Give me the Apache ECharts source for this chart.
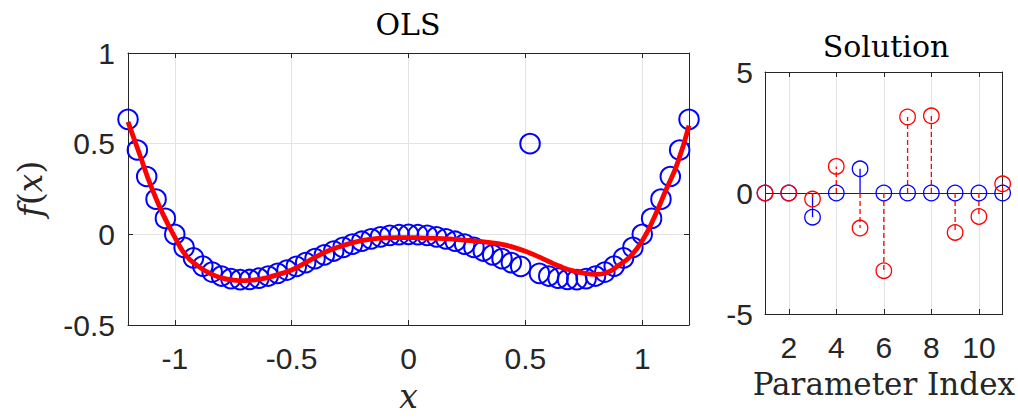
<!DOCTYPE html>
<html><head><meta charset="utf-8">
<script src="https://cdn.jsdelivr.net/npm/echarts@6/dist/echarts.min.js"></script>
<style>html,body{margin:0;padding:0;background:#fff}#c{width:1018px;height:418px}</style>
</head><body><div id="c"></div>
<script>
// ---- Data ----
const sampleX = [-1.2,-1.16,-1.12,-1.08,-1.04,-1.0,-0.96,-0.92,-0.88,-0.84,-0.8,-0.76,-0.72,-0.68,-0.64,-0.6,-0.56,-0.52,-0.48,-0.44,-0.4,-0.36,-0.32,-0.28,-0.24,-0.2,-0.16,-0.12,-0.08,-0.04,0,
  0.04,0.08,0.12,0.16,0.2,0.24,0.28,0.32,0.36,0.4,0.44,0.48,0.52,0.56,0.6,0.64,0.68,0.72,0.76,0.8,0.84,0.88,0.92,0.96,1.0,1.04,1.08,1.12,1.16,1.2];
const sampleY = [0.634,0.465,0.319,0.194,0.088,0,-0.072,-0.130,-0.175,-0.208,-0.230,-0.244,-0.250,-0.249,-0.242,-0.230,-0.215,-0.197,-0.177,-0.156,-0.134,-0.113,-0.092,-0.072,-0.054,-0.038,-0.025,-0.014,-0.006,-0.002,0,
  -0.002,-0.006,-0.014,-0.025,-0.038,-0.054,-0.072,-0.092,-0.113,-0.134,-0.156,-0.177,0.5,-0.215,-0.230,-0.242,-0.249,-0.250,-0.244,-0.230,-0.208,-0.175,-0.130,-0.072,0,0.088,0.194,0.319,0.465,0.634];
const fitX = [-1.2,-1.15,-1.1,-1.05,-1.0,-0.95,-0.9,-0.85,-0.8,-0.75,-0.7,-0.65,-0.6,-0.55,-0.5,-0.45,-0.4,-0.35,-0.3,-0.25,-0.2,-0.15,-0.1,-0.05,0,
  0.05,0.1,0.15,0.2,0.25,0.3,0.35,0.4,0.45,0.5,0.55,0.6,0.65,0.7,0.75,0.8,0.85,0.9,0.95,1.0,1.05,1.1,1.15,1.2];
const fitY = [0.62,0.44,0.26,0.11,-0.015,-0.12,-0.175,-0.215,-0.24,-0.252,-0.255,-0.25,-0.237,-0.218,-0.197,-0.163,-0.127,-0.095,-0.07,-0.05,-0.035,-0.025,-0.02,-0.018,-0.018,
  -0.019,-0.021,-0.024,-0.028,-0.033,-0.039,-0.046,-0.055,-0.072,-0.093,-0.12,-0.15,-0.178,-0.2,-0.214,-0.221,-0.21,-0.17,-0.12,-0.035,0.09,0.24,0.39,0.60];
const paramIndex = [1,2,3,4,5,6,7,8,9,10,11];
const trueParams = [0,0,-1,0,1,0,0,0,0,0,0];
const olsParams = [0,0,-0.25,1.1,-1.45,-3.21,3.14,3.19,-1.63,-0.97,0.38];
const leftXTicks = [-1,-0.5,0,0.5,1];
const rightXTicks = [2,4,6,8,10];

// ---- Styling ----
const AX = '#262626', GRIDC = '#e3e3e3';
const SANS = 'Liberation Sans, Arial, sans-serif';
const SERIF = 'DejaVu Serif, serif';
const chart = echarts.init(document.getElementById('c'), null, {renderer: 'svg'});

function mkAxis(o) {
  const base = {
    type: 'value', min: o.min, max: o.max, gridIndex: o.grid, position: o.pos,
    axisLine: {show: true, onZero: false, lineStyle: {color: AX, width: 1}},
    axisTick: {show: true, inside: true, length: 5, lineStyle: {color: AX, width: 1}},
    axisLabel: {show: !o.mirror, color: AX, fontFamily: SANS, fontSize: 30, margin: o.margin || 12, showMinLabel: true, showMaxLabel: true},
    splitLine: {show: !!o.split && !o.mirror, lineStyle: {color: GRIDC, width: 1}}
  };
  if (o.custom) { base.axisTick.customValues = o.custom; base.axisLabel.customValues = o.custom; }
  if (o.interval) base.interval = o.interval;
  if (o.name) Object.assign(base, o.name);
  return base;
}

const xAxes = [
  mkAxis({grid: 0, pos: 'bottom', min: -1.2, max: 1.2, custom: leftXTicks, split: true, margin: 18,
    name: {name: 'x', nameLocation: 'middle', nameGap: 55, nameTextStyle: {fontFamily: SERIF, fontStyle: 'italic', fontSize: 33, color: AX}}}),
  mkAxis({grid: 0, pos: 'top', min: -1.2, max: 1.2, custom: leftXTicks, mirror: true}),
  mkAxis({grid: 1, pos: 'bottom', min: 1, max: 11, custom: rightXTicks, split: true, margin: 18,
    name: {name: 'Parameter Index', nameLocation: 'middle', nameGap: 54, nameTextStyle: {fontFamily: SERIF, fontSize: 31, color: AX}}}),
  mkAxis({grid: 1, pos: 'top', min: 1, max: 11, custom: rightXTicks, mirror: true})
];
const yAxes = [
  mkAxis({grid: 0, pos: 'left', min: -0.5, max: 1, interval: 0.5, split: true, margin: 13,
    name: {name: '{i|f}({i|x})', nameLocation: 'middle', nameGap: 81, nameRotate: 90,
      nameTextStyle: {fontFamily: SERIF, fontSize: 33, color: AX, rich: {i: {fontFamily: SERIF, fontStyle: 'italic', fontSize: 33, color: AX}}}}}),
  mkAxis({grid: 0, pos: 'right', min: -0.5, max: 1, interval: 0.5, mirror: true}),
  mkAxis({grid: 1, pos: 'left', min: -5, max: 5, interval: 5, split: false, margin: 12}),
  mkAxis({grid: 1, pos: 'right', min: -5, max: 5, interval: 5, mirror: true})
];

function stems(vals, color, dashed, z) {
  return {
    type: 'custom', xAxisIndex: 2, yAxisIndex: 2, z: z, silent: true,
    data: paramIndex.map((p, i) => [p, vals[i]]),
    renderItem: function (params, api) {
      const a = api.coord([api.value(0), 0]);
      const b = api.coord([api.value(0), api.value(1)]);
      return {type: 'line', shape: {x1: a[0], y1: a[1], x2: b[0], y2: b[1]},
        style: {stroke: color, lineWidth: 1.3, lineDash: dashed ? [5, 3] : null}};
    }
  };
}
function heads(vals, color, z, extra) {
  return Object.assign({
    type: 'scatter', xAxisIndex: 2, yAxisIndex: 2, z: z, silent: true,
    data: paramIndex.map((p, i) => [p, vals[i]]),
    symbol: 'circle', symbolSize: 15.5,
    itemStyle: {color: 'rgba(0,0,0,0)', borderColor: color, borderWidth: 1.3, opacity: 1}
  }, extra || {});
}

chart.setOption({
  animation: false,
  backgroundColor: '#ffffff',
  grid: [
    {left: 128, top: 53, width: 561, height: 280, containLabel: false},
    {left: 765, top: 72, width: 242, height: 242, containLabel: false}
  ],
  xAxis: xAxes,
  yAxis: yAxes,
  graphic: [
    {type: 'text', x: 408, y: 24, style: {text: 'OLS', font: '30px ' + SERIF, fill: '#000', align: 'center', verticalAlign: 'middle'}},
    {type: 'text', x: 886, y: 46, style: {text: 'Solution', font: '30px ' + SERIF, fill: '#000', align: 'center', verticalAlign: 'middle'}}
  ],
  series: [
    {type: 'scatter', xAxisIndex: 0, yAxisIndex: 0, silent: true, z: 2,
      data: sampleX.map((x, i) => [x, sampleY[i]]),
      symbol: 'circle', symbolSize: 19.5,
      itemStyle: {color: 'rgba(0,0,0,0)', borderColor: '#0000ff', borderWidth: 2, opacity: 1}},
    {type: 'line', xAxisIndex: 0, yAxisIndex: 0, silent: true, z: 3,
      data: fitX.map((x, i) => [x, fitY[i]]),
      showSymbol: false, smooth: 0.5,
      lineStyle: {color: '#ff0000', width: 4.8}},
    stems(trueParams, '#0000ff', false, 2),
    stems(olsParams, '#ff0000', true, 3),
    heads(trueParams, '#0000ff', 4, {markLine: {silent: true, symbol: 'none', label: {show: false},
      lineStyle: {color: AX, type: 'solid', width: 1}, data: [{yAxis: 0}], z: 1}}),
    heads(olsParams, '#ff0000', 5)
  ]
});
</script></body></html>
